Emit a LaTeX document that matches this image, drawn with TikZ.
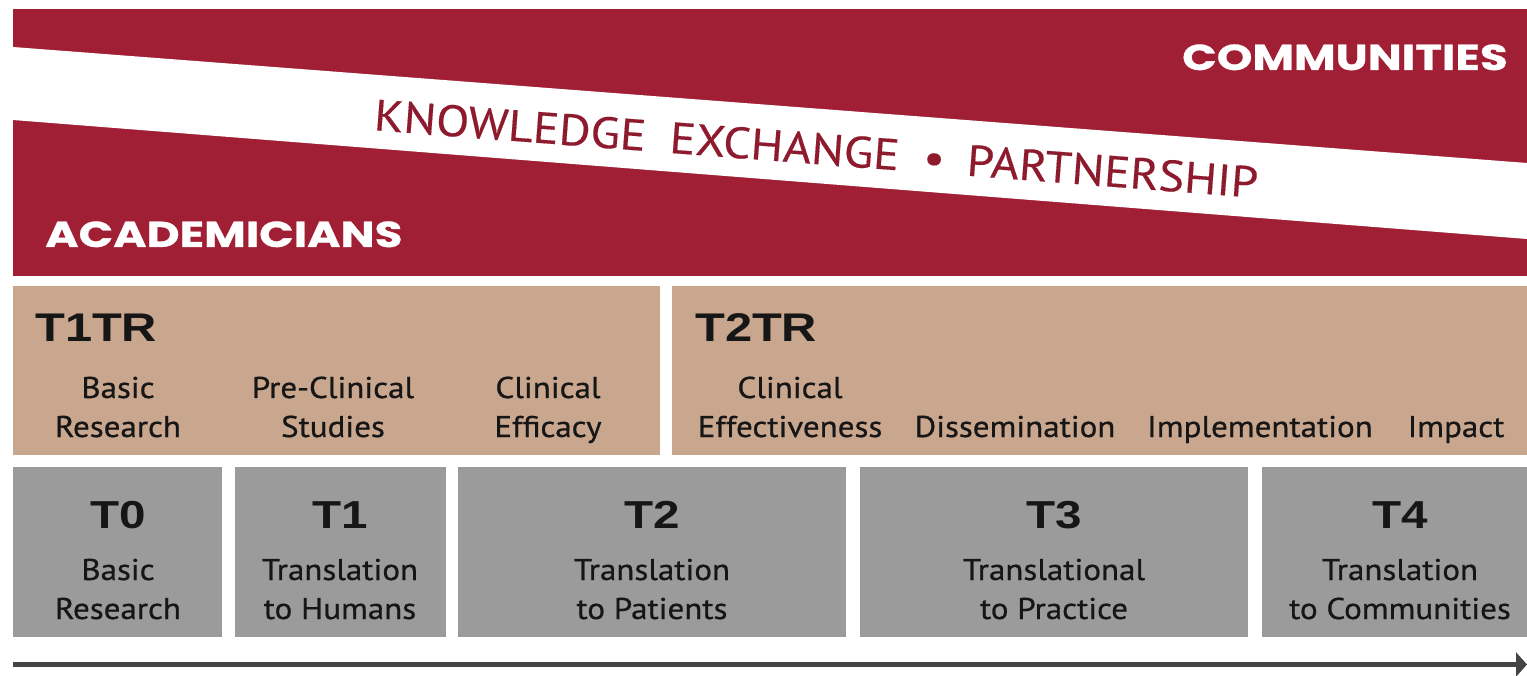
\documentclass[tikz,border=0pt]{standalone}
\usepackage{fontspec}
\setmainfont{PT Sans}
\newfontfamily\labelfont[FakeStretch=1.1,FakeBold=0.7]{PT Sans}
\newfontfamily\bandfont[FakeStretch=1.1,FakeBold=0.3]{PT Sans}
\newfontfamily\heavyfont[FakeStretch=1.26,FakeBold=0.8]{Poppins}
\newfontfamily\titlefont[FakeStretch=1.22]{Liberation Sans}
\usetikzlibrary{arrows.meta}
\definecolor{bandred}{HTML}{A11F35}
\definecolor{textred}{HTML}{8E1A2E}
\definecolor{tanfill}{HTML}{C9A68E}
\definecolor{boxgray}{HTML}{9B9B9B}
\definecolor{arrowgray}{HTML}{444444}
\definecolor{inkblack}{HTML}{161616}
\begin{document}
\begin{tikzpicture}[x=1pt,y=-1pt,
  lbl/.style={font=\labelfont\fontsize{30}{36}\selectfont, text=inkblack, inner sep=0pt, anchor=base},
  ttl/.style={font=\titlefont\bfseries\fontsize{39}{44}\selectfont, text=inkblack, inner sep=0pt, anchor=base},
  trl/.style={font=\titlefont\bfseries\fontsize{40}{44}\selectfont, text=inkblack, inner sep=0pt, anchor=base west},
  side/.style={font=\heavyfont\bfseries\fontsize{36}{40}\selectfont, text=white, inner sep=0pt},
  know/.style={font=\bandfont\fontsize{44}{48}\selectfont, text=textred, inner sep=0pt, anchor=base},
  arrowline/.style={draw=arrowgray, line width=5.5pt, -{Triangle[length=11pt,width=24pt]}}]
\useasboundingbox (0,0) rectangle (1527,676);
\fill[white] (0,0) rectangle (1527,676);
% top red band with white diagonal
\fill[bandred] (13,9) rectangle (1527,276);
\fill[white] (13,47) -- (1527,163) -- (1527,239) -- (13,120) -- cycle;
\node[know, rotate=-4.38] (ke) at (815,164)
  {KNOWLEDGE\hspace{24pt}EXCHANGE\hspace{24pt}\textbullet\hspace{22pt}PARTNERSHIP};
\node[side, anchor=base west] (acad) at (45,247) {ACADEMICIANS};
\node[side, anchor=base east] (comm) at (1508,70) {COMMUNITIES};
% tan bands
\fill[tanfill] (13,286) rectangle (660,455);
\fill[tanfill] (672,286) rectangle (1527,455);
\node[trl] (t1tr) at (35,342) {T1TR};
\node[trl] (t2tr) at (695,342) {T2TR};
\node[lbl] (br1) at (118,398) {Basic};
\node[lbl] (br2) at (118,437) {Research};
\node[lbl] (pc1) at (333,398) {Pre-Clinical};
\node[lbl] (pc2) at (333,437) {Studies};
\node[lbl] (ce1) at (548,398) {Clinical};
\node[lbl] (ce2) at (548,437) {Efficacy};
\node[lbl] (cf1) at (790,398) {Clinical};
\node[lbl] (cf2) at (790,437) {Effectiveness};
\node[lbl] (dis) at (1015,437) {Dissemination};
\node[lbl] (imp) at (1260,437) {Implementation};
\node[lbl] (ipt) at (1456,437) {Impact};
% gray boxes
\fill[boxgray] (13,467) rectangle (222,637);
\fill[boxgray] (235,467) rectangle (446,637);
\fill[boxgray] (458,467) rectangle (846,637);
\fill[boxgray] (860,467) rectangle (1248,637);
\fill[boxgray] (1262,467) rectangle (1527,637);
\node[ttl] (t0) at (118,528) {T0};
\node[lbl] (t0a) at (118,580) {Basic};
\node[lbl] (t0b) at (118,619) {Research};
\node[ttl] (t1) at (340,528) {T1};
\node[lbl] (t1a) at (340,580) {Translation};
\node[lbl] (t1b) at (340,619) {to Humans};
\node[ttl] (t2) at (652,528) {T2};
\node[lbl] (t2a) at (652,580) {Translation};
\node[lbl] (t2b) at (652,619) {to Patients};
\node[ttl] (t3) at (1054,528) {T3};
\node[lbl] (t3a) at (1054,580) {Translational};
\node[lbl] (t3b) at (1054,619) {to Practice};
\node[ttl] (t4) at (1400,528) {T4};
\node[lbl] (t4a) at (1400,580) {Translation};
\node[lbl] (t4b) at (1400,619) {to Communities};
% timeline arrow
\coordinate (as) at (13,664.5);
\coordinate (ae) at (1527,664.5);
\draw[arrowline] (as) -- (ae);
\end{tikzpicture}
\end{document}
